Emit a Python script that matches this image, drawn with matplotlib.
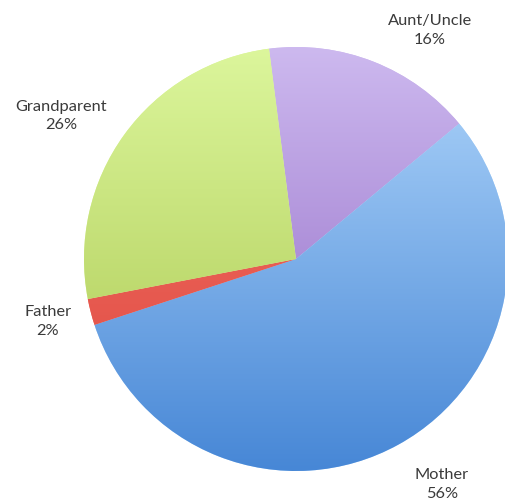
import numpy as np
import matplotlib.pyplot as plt
from matplotlib.colors import LinearSegmentedColormap

# Who the children live with
labels = ['Aunt/Uncle', 'Mother', 'Father', 'Grandparent']
shares = [16, 56, 2, 26]

# light (top of pie) -> dark (bottom of pie) shading for each slice
top_colors = ['#cdb9ef', '#b0d6fb', '#f07066', '#dcf69c']
bottom_colors = ['#8d64c2', '#4787d6', '#e04a40', '#a9c64e']

# label block centres in figure pixels (x, y from top)
label_pos = [(430, 30.5), (442, 484.5), (48, 321.5), (61, 116)]

W, H = 506, 502
fig = plt.figure(figsize=(W / 100, H / 100), dpi=100)

# pie centre and radius in pixels
cx, cy, r = 296, 260, 212
ax = fig.add_axes([(cx - r) / W, (H - cy - r) / H, 2 * r / W, 2 * r / H])
ax.set_xlim(-1, 1)
ax.set_ylim(-1, 1)
ax.set_aspect('equal')
ax.axis('off')

wedges, _ = ax.pie(shares, startangle=97.3, counterclock=False, radius=1,
                   colors=top_colors, wedgeprops=dict(linewidth=0))

# vertical gradient fill for each wedge
grad = np.linspace(1, 0, 256).reshape(-1, 1)
for w, c0, c1 in zip(wedges, top_colors, bottom_colors):
    cmap = LinearSegmentedColormap.from_list('shade', [c1, c0])
    im = ax.imshow(grad, cmap=cmap, extent=(-1, 1, -1, 1), origin='upper',
                   aspect='auto', vmin=0, vmax=1, zorder=w.get_zorder() + 0.1)
    im.set_clip_path(w)
ax.set_xlim(-1, 1)
ax.set_ylim(-1, 1)

for lab, val, (px, py) in zip(labels, shares, label_pos):
    fig.text(px / W, 1 - py / H, f'{lab}\n{val}%', ha='center', va='center',
             multialignment='center', fontsize=11.8, family='Lato',
             color='#3a3a3a', linespacing=1.38)

fig.savefig('out.png', dpi=100)
